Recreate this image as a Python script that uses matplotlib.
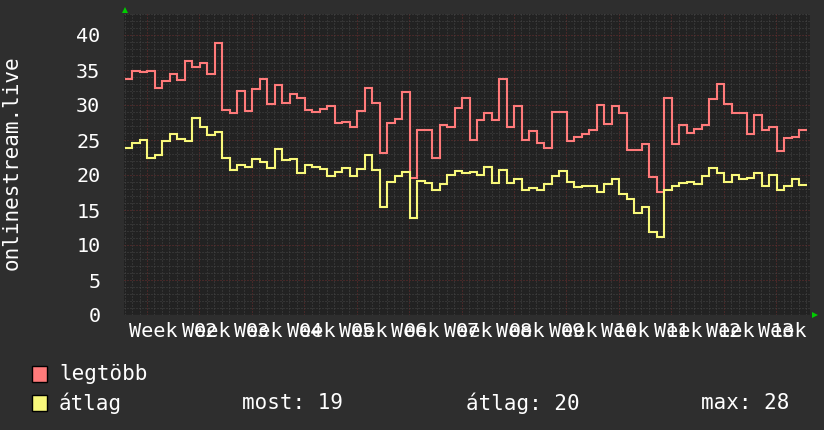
import numpy as np
import matplotlib
matplotlib.use('Agg')
import matplotlib.pyplot as plt
from matplotlib.patches import Rectangle
from matplotlib.lines import Line2D

# daily values
legtobb = [33.7, 34.9, 34.7, 34.8, 32.4, 33.5, 34.5, 33.6, 36.3, 35.5, 36.0, 34.4, 38.9, 29.3, 28.9, 32.0,
           29.1, 32.3, 33.7, 30.2, 32.8, 30.3, 31.6, 31.0, 29.3, 29.0, 29.5, 29.8, 27.4, 27.6, 26.9,
           29.1, 32.4, 30.3, 23.1, 27.5, 28.0, 31.8, 19.6, 26.4, 26.4, 22.5, 27.1, 26.9, 29.6, 31.0,
           25.0, 27.9, 28.9, 27.9, 33.7, 26.9, 29.9, 25.0, 26.3, 24.6, 23.9, 29.0, 29.0, 24.9, 25.5,
           25.9, 26.4, 30.0, 27.3, 29.9, 28.9, 23.6, 23.6, 24.4, 19.7, 17.6, 31.0, 24.4, 27.1, 26.0,
           26.6, 27.1, 30.9, 33.0, 30.1, 28.9, 28.9, 25.9, 28.6, 26.5, 26.9, 23.5, 25.3, 25.5, 26.4]
atlag = [23.8, 24.6, 25.0, 22.5, 22.9, 24.8, 25.9, 25.2, 24.9, 28.1, 26.9, 25.7, 26.1, 22.4, 20.7, 21.4,
         21.2, 22.3, 21.9, 21.0, 23.7, 22.2, 22.3, 20.3, 21.4, 21.2, 20.9, 19.9, 20.5, 21.0, 19.8,
         20.9, 22.9, 20.7, 15.5, 19.0, 19.9, 20.4, 13.8, 19.2, 18.9, 17.9, 18.7, 20.0, 20.6, 20.3,
         20.4, 20.0, 21.2, 18.9, 20.7, 18.9, 19.4, 17.8, 18.2, 17.8, 18.7, 19.8, 20.6, 19.0, 18.3,
         18.4, 18.5, 17.6, 18.7, 19.4, 17.3, 16.6, 14.6, 15.5, 11.8, 11.2, 17.9, 18.4, 18.9, 19.0,
         18.7, 19.9, 21.0, 20.3, 19.0, 20.0, 19.5, 19.6, 20.3, 18.4, 20.0, 17.8, 18.4, 19.5, 18.6]
week_nums = ['', '02', '03', '04', '05', '06', '07', '08', '09', '10', '11', '12', '13']
yticks = [0, 5, 10, 15, 20, 25, 30, 35, 40]
ylabel = 'onlinestream.live'
names = ['legtöbb', 'átlag']
stats = ['most: 19', 'átlag: 20', 'max: 28']

W, H = 824, 430
BG = '#2e2e2e'
CANVAS = '#222222'
RED = '#ff7a7a'
YEL = '#f8f87a'
MONO = 'DejaVu Sans Mono'

def fx(px):
    return px / W

def fy(py):
    return 1 - py / H

fig = plt.figure(figsize=(W / 100, H / 100), dpi=100, facecolor=BG)
L, R, T, B = 124, 810, 14, 315
ax = fig.add_axes([fx(L), fy(B), fx(R - L), (B - T) / H])
ax.set_facecolor(CANVAS)

x0 = 0.13
xmax = (R - L) / 7.49
g0 = 3.07
ax.set_xlim(0, xmax)
ax.set_ylim(0, 43)

# grid, dotted like rrdtool
dots = (0, (1, 2))
minor_c = '#474747'
major_c = '#6c2e2e'
for d in np.arange(g0 - 3, xmax, 1.0):
    major = abs(((d - g0) / 7) - round((d - g0) / 7)) < 1e-6
    ax.axvline(d, color=major_c if major else minor_c, lw=0.72, ls=dots, zorder=1)
for v in range(1, 44):
    ax.axhline(v, color=major_c if v % 5 == 0 else minor_c, lw=0.72, ls=dots, zorder=1)

edges = x0 + np.arange(len(legtobb) + 1)
ax.stairs(legtobb, edges, baseline=None, color=RED, lw=1.5, zorder=3)
ax.stairs(atlag, edges, baseline=None, color=YEL, lw=1.5, zorder=4)

for s in ax.spines.values():
    s.set_visible(False)
ax.axhline(0, color='#4a4a4a', lw=0.8, zorder=2)
ax.set_xticks([])
ax.set_yticks(yticks)
ax.set_yticklabels([str(t) for t in yticks], fontfamily=MONO, fontsize=14.5, color='white')
ax.tick_params(axis='y', length=0, pad=17)

for i, n in enumerate(week_nums):
    xp = g0 + 7 * i + 0.87
    ax.text(xp, -2.3, 'Week', ha='center', va='center', fontfamily=MONO, fontsize=14.5,
            color='white', clip_on=False)
    if n:
        ax.text(xp, -2.3, n, ha='center', va='center', fontfamily=MONO, fontsize=14.5,
                color='white', clip_on=False)

fig.text(fx(12), fy(163), ylabel, rotation=90, ha='center', va='center',
         fontfamily=MONO, fontsize=15, color='white')

# arrows
fig.add_artist(Line2D([fx(125)], [fy(10)], marker='^', color='#00cc00', ms=4, mew=0))
fig.add_artist(Line2D([fx(815)], [fy(315)], marker='>', color='#00cc00', ms=4, mew=0))

# legend
for j, (name, col) in enumerate(zip(names, [RED, YEL])):
    yc = 374 + 29 * j
    fig.add_artist(Rectangle((fx(32), fy(yc + 8)), 15 / W, 16 / H, transform=fig.transFigure,
                             facecolor=col, edgecolor='black', lw=1))
    fig.text(fx(59), fy(yc), name, ha='left', va='center', fontfamily=MONO, fontsize=15,
             color='white')
for s, xs in zip(stats, [242, 466, 701]):
    fig.text(fx(xs), fy(403), s, ha='left', va='center', fontfamily=MONO, fontsize=15,
             color='white')

fig.savefig('out.png', dpi=100, facecolor=BG)
